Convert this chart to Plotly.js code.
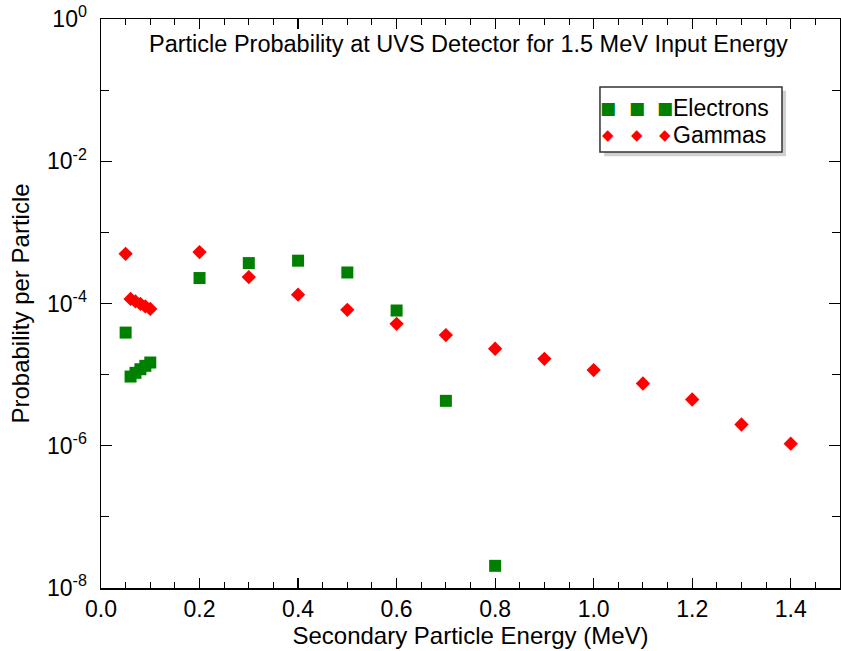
<!DOCTYPE html>
<html>
<head>
<meta charset="utf-8">
<script src="https://cdn.plot.ly/plotly-3.0.1.min.js"></script>
<style>html,body{margin:0;padding:0;background:#fff;}#chart{width:841px;height:651px;}</style>
</head>
<body>
<div id="chart"></div>
<script>
// Data
const electronEnergy = [0.05, 0.06, 0.07, 0.08, 0.09, 0.10, 0.2, 0.3, 0.4, 0.5, 0.6, 0.7, 0.8];
const electronProb   = [3.9e-5, 9.4e-6, 1.06e-5, 1.19e-5, 1.33e-5, 1.48e-5, 2.28e-4, 3.70e-4, 4.0e-4, 2.73e-4, 7.97e-5, 4.28e-6, 2.05e-8];
const gammaEnergy = [0.05, 0.06, 0.07, 0.08, 0.09, 0.10, 0.2, 0.3, 0.4, 0.5, 0.6, 0.7, 0.8, 0.9, 1.0, 1.1, 1.2, 1.3, 1.4];
const gammaProb   = [5.0e-4, 1.16e-4, 1.07e-4, 9.9e-5, 9.1e-5, 8.4e-5, 5.28e-4, 2.35e-4, 1.33e-4, 8.15e-5, 5.18e-5, 3.60e-5, 2.31e-5, 1.67e-5, 1.16e-5, 7.5e-6, 4.47e-6, 1.99e-6, 1.07e-6];
const seriesNames = ['Electrons', 'Gammas'];
const yTickVals = [1, 1e-2, 1e-4, 1e-6, 1e-8];
const yTickText = ['10<sup>0</sup>', '10<sup>-2</sup>', '10<sup>-4</sup>', '10<sup>-6</sup>', '10<sup>-8</sup>'];
const yMinorVals = [1e-1, 1e-3, 1e-5, 1e-7];
const titleText = 'Particle Probability at UVS Detector for 1.5 MeV Input Energy';
const xTitle = 'Secondary Particle Energy (MeV)';
const yTitle = 'Probability per Particle';

const FONT = 'Liberation Sans, Arial, Helvetica, sans-serif';
const GREEN = '#008000', RED = '#ff0000';

const traces = [
  {
    x: electronEnergy, y: electronProb, name: seriesNames[0], type: 'scatter', mode: 'markers',
    marker: {symbol: 'square', size: 12, color: GREEN, line: {width: 0}}
  },
  {
    x: gammaEnergy, y: gammaProb, name: seriesNames[1], type: 'scatter', mode: 'markers',
    marker: {symbol: 'diamond', size: 11, color: RED, line: {width: 0}}
  }
];

// Legend drawn as a boxed key: three sample glyphs then the name, as in the reference
const legendStyle = [
  {glyph: '\u25A0', color: GREEN, size: 17, y: 0.8436},
  {glyph: '\u25C6', color: RED, size: 15, y: 0.7961}
];
const glyphX = [0.686, 0.7253, 0.7632];
const annotations = [{
  text: titleText, xref: 'paper', yref: 'paper', x: 0.497, y: 0.956,
  xanchor: 'center', yanchor: 'middle', showarrow: false,
  font: {family: FONT, size: 23.5, color: '#000'}
}];
seriesNames.forEach((name, i) => {
  const st = legendStyle[i];
  glyphX.forEach(gx => annotations.push({
    text: st.glyph, xref: 'paper', yref: 'paper', x: gx, y: st.y,
    xanchor: 'center', yanchor: 'middle', showarrow: false,
    font: {family: 'DejaVu Sans', size: st.size, color: st.color}
  }));
  annotations.push({
    text: name, xref: 'paper', yref: 'paper', x: 0.7715, y: st.y,
    xanchor: 'left', yanchor: 'middle', showarrow: false,
    font: {family: FONT, size: 23, color: '#000'}
  });
});

const layout = {
  width: 841, height: 651,
  margin: {l: 101, r: 1, t: 19, b: 63},
  paper_bgcolor: '#ffffff', plot_bgcolor: '#ffffff',
  font: {family: FONT, color: '#000', size: 22},
  showlegend: false,
  annotations: annotations,
  shapes: [
    {type: 'rect', xref: 'paper', yref: 'paper', x0: 0.681, x1: 0.927, y0: 0.759, y1: 0.874,
     fillcolor: '#d0d0d0', line: {width: 0}, layer: 'below'},
    {type: 'rect', xref: 'paper', yref: 'paper', x0: 0.6752, x1: 0.9215, y0: 0.7663, y1: 0.8805,
     fillcolor: '#ffffff', line: {color: '#333', width: 1.5}, layer: 'below'}
  ],
  xaxis: {
    range: [0, 1.5], tickmode: 'linear', tick0: 0, dtick: 0.2, tickformat: '.1f',
    ticks: 'inside', ticklen: 10, tickwidth: 1.2, tickcolor: '#000',
    minor: {tickmode: 'linear', tick0: 0, dtick: 0.05, ticks: 'inside', ticklen: 6, tickcolor: '#000', tickwidth: 1},
    showline: true, linecolor: '#000', linewidth: 1.5, mirror: 'ticks',
    showgrid: false, zeroline: false,
    tickfont: {family: FONT, size: 23},
    title: {text: xTitle, font: {family: FONT, size: 24}, standoff: 2}
  },
  yaxis: {
    type: 'log', range: [-8, 0],
    tickmode: 'array', tickvals: yTickVals, ticktext: yTickText,
    ticks: 'inside', ticklen: 11, tickwidth: 1.2, tickcolor: '#000',
    minor: {tickmode: 'array', tickvals: yMinorVals, ticks: 'inside', ticklen: 8, tickcolor: '#000', tickwidth: 1},
    showline: true, linecolor: '#000', linewidth: 1.5, mirror: 'ticks',
    showgrid: false, zeroline: false,
    ticklabelstandoff: 8,
    tickfont: {family: FONT, size: 23},
    title: {text: yTitle, font: {family: FONT, size: 24}, standoff: 10}
  }
};

Plotly.newPlot('chart', traces, layout, {displayModeBar: false, staticPlot: true});
</script>
</body>
</html>
